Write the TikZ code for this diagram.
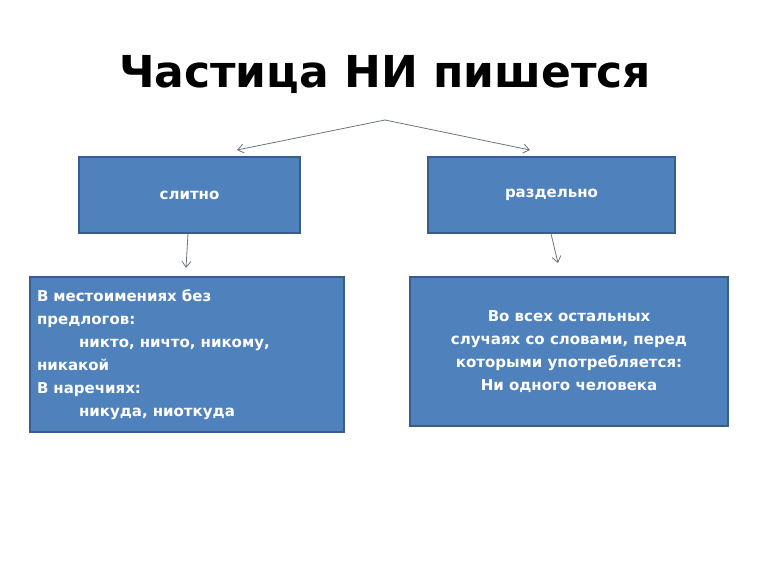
\documentclass[tikz,border=0pt]{standalone}
\usepackage{fontspec}
\setmainfont{DejaVu Sans}
\usetikzlibrary{arrows.meta}
\definecolor{boxfill}{HTML}{4F81BD}
\definecolor{boxline}{HTML}{385D8A}
\definecolor{arr}{HTML}{6A7580}
\tikzset{
  bx/.style={draw=boxline,line width=1.5pt,fill=boxfill,text=white,font=\bfseries\fontsize{15}{23}\selectfont},
  ar/.style={draw=arr,line width=0.8pt,-{Straight Barb[length=6pt,width=9pt]}}
}
\begin{document}
\begin{tikzpicture}[x=1pt,y=-1pt]
\useasboundingbox[fill=white] (0,0) rectangle (770,577);
\node[font=\bfseries\fontsize{44}{50}\selectfont] (title) at (385,75) {Частица НИ пишется};
\coordinate (apex) at (385,120);
\node[bx,minimum width=221pt,minimum height=76pt] (sl) at (189.5,195) {слитно};
\node[bx,minimum width=247pt,minimum height=76pt] (rz) at (551.5,195) {раздельно};
\node[bx,minimum width=314pt,minimum height=155pt,text width=300pt,align=left] (bl) at (187,354.5) {В местоимениях без\\предлогов:\\\hspace*{42pt}никто, ничто, никому,\\никакой\\В наречиях:\\\hspace*{42pt}никуда, ниоткуда};
\node[bx,minimum width=318pt,minimum height=149pt,align=center] (br) at (569,351.5) {Во всех остальных\\случаях со словами, перед\\которыми употребляется:\\Ни одного человека};
\draw[ar] (apex) -- (237,150);
\draw[ar] (apex) -- (530,150);
\draw[ar] (sl.south -| 188,0) -- (186,268);
\draw[ar] (rz.south -| 551,0) -- (558,263);
\end{tikzpicture}
\end{document}
